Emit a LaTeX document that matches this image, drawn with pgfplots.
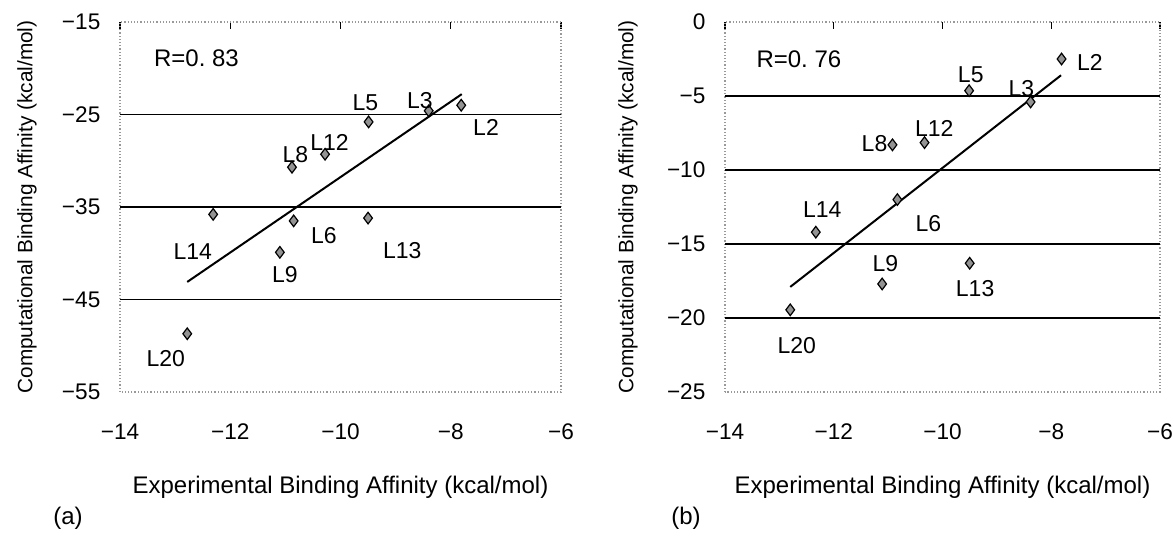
\documentclass[border=0pt]{standalone}
\usepackage{fontspec}
\setmainfont{Liberation Sans}
\usepackage{pgfplots}
\usepackage{pgfplotstable}
\pgfplotsset{compat=1.18}

% name, point (x,y), label centre (lx,ly)
\pgfplotstableread{
name x y lx ly
L2 -7.81 -24.0 -7.36 -26.4
L3 -8.40 -24.6 -8.56 -23.5
L5 -9.49 -25.8 -9.55 -23.7
L12 -10.28 -29.3 -10.20 -28.0
L8 -10.88 -30.7 -10.82 -29.35
L14 -12.31 -35.8 -12.68 -39.8
L6 -10.85 -36.5 -10.30 -38.1
L13 -9.50 -36.2 -8.88 -39.7
L9 -11.10 -39.9 -11.01 -42.3
L20 -12.78 -48.7 -13.17 -51.4
}\leftdata

\pgfplotstableread{
name x y lx ly
L2 -7.81 -2.5 -7.29 -2.73
L5 -9.51 -4.64 -9.48 -3.58
L3 -8.38 -5.4 -8.55 -4.48
L12 -10.33 -8.15 -10.15 -7.18
L8 -10.92 -8.3 -11.25 -8.24
L6 -10.83 -12.0 -10.26 -13.6
L14 -12.33 -14.2 -12.21 -12.7
L13 -9.50 -16.3 -9.40 -18.0
L9 -11.11 -17.7 -11.05 -16.3
L20 -12.80 -19.45 -12.68 -21.85
}\rightdata

\pgfplotsset{
  bind/.style={
    scale only axis,
    height=185pt,
    xmin=-14, xmax=-6,
    xtick={-14,-12,-10,-8,-6},
    xticklabels={−14,−12,−10,−8,−6},
    xtick pos=right, xticklabel pos=left,
    tick align=inside,
    major tick length=3.5pt,
    xtick style={solid, black, line width=0.6pt, draw=black},
    ytick style={draw=none},
    tick label style={font=\fontsize{11.3}{13}\selectfont},
    xticklabel style={yshift=-12.3pt},
    yticklabel style={xshift=-6.3pt},
    axis line style={gray!80, densely dotted, line width=0.6pt},
    extra y tick labels={},
    extra y tick style={grid=major, tick style={draw=none}},
    major grid style={solid, black, line width=0.55pt},
    xlabel={Experimental Binding Affinity (kcal/mol)},
    ylabel={Computational Binding Affinity (kcal/mol)},
    xlabel style={font=\fontsize{12}{14}\selectfont, anchor=center, at={(axis description cs:0.5,-0.257)}},
    ylabel style={font=\fontsize{10.4}{12}\selectfont, anchor=center},
    clip=false,
  },
  pts/.style={only marks, mark=diamond*, mark size=2.9pt,
    mark options={solid, fill=gray!85, draw=black, line width=0.6pt}},
  labs/.style={only marks, mark=none, nodes near coords, point meta=explicit symbolic,
    every node near coord/.append style={anchor=center, font=\fontsize{11.5}{13}\selectfont}},
}

\begin{document}
\begin{tikzpicture}
\useasboundingbox (-60pt,-74.5pt) rectangle (527pt,196pt);

\begin{axis}[bind,
  at={(0pt,0pt)}, anchor=south west,
  width=220.5pt,
  ymin=-55, ymax=-15,
  ytick={-55,-45,-35,-25,-15},
  yticklabels={−55,−45,−35,−25,−15},
  extra y ticks={-45,-35,-25},
  ylabel style={at={(axis description cs:-0.211,0.5)}},
]
\addplot[pts] table[x=x, y=y] {\leftdata};
\addplot[black, line width=1pt] coordinates {(-12.78,-43.1) (-7.80,-22.8)};
\addplot[labs] table[x=lx, y=ly, meta=name] {\leftdata};
\node[anchor=west, font=\fontsize{12}{14}\selectfont] at (axis cs:-13.51,-18.95) {R=0.\ 83};
\end{axis}

\begin{axis}[bind,
  at={(302.5pt,0pt)}, anchor=south west,
  width=217.5pt,
  ymin=-25, ymax=0,
  ytick={-25,-20,-15,-10,-5,0},
  yticklabels={−25,−20,−15,−10,−5,0},
  extra y ticks={-20,-15,-10,-5},
  ylabel style={at={(axis description cs:-0.223,0.5)}},
]
\addplot[pts] table[x=x, y=y] {\rightdata};
\addplot[black, line width=1pt] coordinates {(-12.80,-17.9) (-7.82,-3.6)};
\addplot[labs] table[x=lx, y=ly, meta=name] {\rightdata};
\node[anchor=west, font=\fontsize{12}{14}\selectfont] at (axis cs:-13.55,-2.5) {R=0.\ 76};
\end{axis}

\node[font=\fontsize{12}{14}\selectfont] at (-26pt,-63pt) {(a)};
\node[font=\fontsize{12}{14}\selectfont] at (283pt,-63pt) {(b)};
\end{tikzpicture}
\end{document}
